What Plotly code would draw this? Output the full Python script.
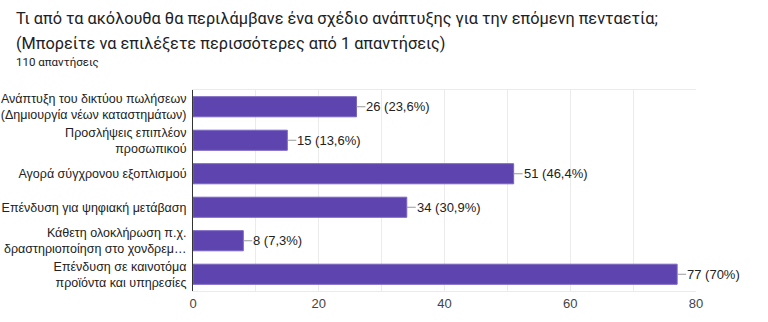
import plotly.graph_objects as go

categories = [
    "Ανάπτυξη του δικτύου πωλήσεων<br>(Δημιουργία νέων καταστημάτων)",
    "Προσλήψεις επιπλέον<br>προσωπικού",
    "Αγορά σύγχρονου εξοπλισμού",
    "Επένδυση για ψηφιακή μετάβαση",
    "Κάθετη ολοκλήρωση π.χ.<br>δραστηριοποίηση στο χονδρεμ…",
    "Επένδυση σε καινοτόμα<br>προϊόντα και υπηρεσίες",
]
values = [26, 15, 51, 34, 8, 77]
value_labels = ["26 (23,6%)", "15 (13,6%)", "51 (46,4%)", "34 (30,9%)", "8 (7,3%)", "77 (70%)"]
tick_vals = [0, 20, 40, 60, 80]

L, R, T, B = 193, 72, 90, 31
W, H = 768, 322
pw, ph = W - L - R, H - T - B

fig = go.Figure()
fig.add_trace(go.Bar(
    x=values, y=categories, orientation="h",
    marker=dict(color="#5e44ae", line=dict(color="#7a64c4", width=1)),
    width=0.6, hoverinfo="skip",
))

for v, c, t in zip(values, categories, value_labels):
    fig.add_annotation(
        x=v, y=c, xref="x", yref="y", text=t, showarrow=True,
        arrowhead=0, arrowwidth=1, arrowcolor="#999999",
        ax=9, ay=0, xanchor="left", yanchor="middle",
        font=dict(family="Liberation Sans, Arial", size=13, color="#222222"),
        borderpad=0,
    )

def px_x(p):
    return (p - L) / pw

def px_y(p):
    return (H - B - p) / ph

title_font = dict(family="Roboto, Arial", size=16.3, color="#202124")
fig.add_annotation(xref="paper", yref="paper", x=px_x(14), y=px_y(18), xanchor="left", yanchor="middle",
                   text="Τι από τα ακόλουθα θα περιλάμβανε ένα σχέδιο ανάπτυξης για την επόμενη πενταετία;",
                   showarrow=False, font=title_font)
fig.add_annotation(xref="paper", yref="paper", x=px_x(14), y=px_y(43), xanchor="left", yanchor="middle",
                   text="(Μπορείτε να επιλέξετε περισσότερες από 1 απαντήσεις)",
                   showarrow=False, font=title_font)
fig.add_annotation(xref="paper", yref="paper", x=px_x(14), y=px_y(62), xanchor="left", yanchor="middle",
                   text="110 απαντήσεις",
                   showarrow=False, font=dict(family="Roboto, Arial", size=11.5, color="#202124"))

fig.update_layout(
    width=W, height=H,
    margin=dict(l=L, r=R, t=T, b=B, pad=0),
    paper_bgcolor="white", plot_bgcolor="white",
    showlegend=False,
    bargap=0.4,
    xaxis=dict(range=[0, 80], tickvals=tick_vals, ticktext=[str(t) for t in tick_vals],
               showgrid=True, gridcolor="#ebebeb", gridwidth=1,
               minor=dict(dtick=10, showgrid=True, gridcolor="#ebebeb", gridwidth=1),
               zeroline=False, showline=True, linecolor="#ebebeb", mirror=True,
               tickfont=dict(family="Liberation Sans, Arial", size=13, color="#444444"),
               ticks="", ticklen=0, automargin=False),
    yaxis=dict(autorange="reversed", showgrid=False, zeroline=False,
               showline=True, linecolor="#333333", linewidth=1,
               tickfont=dict(family="Liberation Sans, Arial", size=12.5, color="#222222"),
               ticks="", ticklabelstandoff=3, automargin=False),
)

fig.write_html("out.html")
